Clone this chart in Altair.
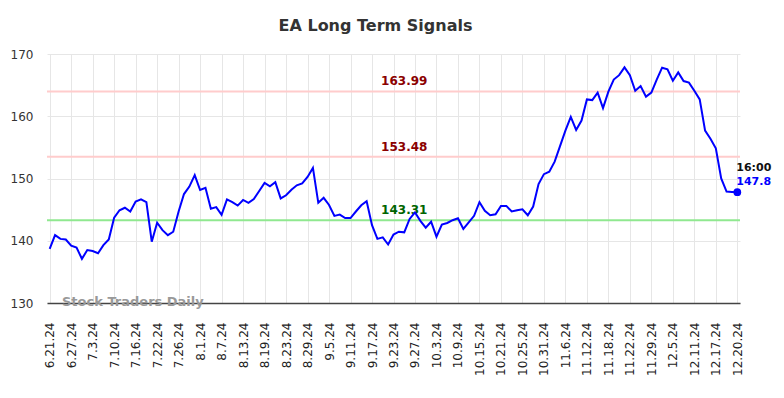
import json
import altair as alt
import pandas as pd

tick_labels = ["6.21.24", "6.27.24", "7.3.24", "7.10.24", "7.16.24", "7.22.24", "7.26.24",
               "8.1.24", "8.7.24", "8.13.24", "8.19.24", "8.23.24", "8.29.24", "9.5.24",
               "9.11.24", "9.17.24", "9.23.24", "9.27.24", "10.3.24", "10.9.24", "10.15.24",
               "10.21.24", "10.25.24", "10.31.24", "11.6.24", "11.12.24", "11.18.24",
               "11.22.24", "11.29.24", "12.5.24", "12.11.24", "12.17.24", "12.20.24"]

prices = [138.7, 140.9, 140.3, 140.2, 139.2, 138.9, 137.1, 138.5, 138.35, 138.0,
          139.3, 140.2, 143.7, 144.9, 145.3, 144.7, 146.3, 146.65, 146.2, 139.85,
          142.9, 141.7, 140.9, 141.45, 144.7, 147.5, 148.7, 150.55, 148.15, 148.5,
          145.15, 145.4, 144.15, 146.65, 146.2, 145.65, 146.55, 146.1, 146.7, 148.0,
          149.3, 148.75, 149.4, 146.8, 147.3, 148.2, 148.9, 149.2, 150.25, 151.7,
          146.1, 146.9, 145.75, 144.0, 144.2, 143.65, 143.65, 144.7, 145.7, 146.35,
          142.5, 140.3, 140.55, 139.4, 141.0, 141.45, 141.35, 143.5, 144.55, 143.2,
          142.1, 143.05, 140.65, 142.6, 142.85, 143.3, 143.6, 141.9, 142.95, 144.0,
          146.2, 144.8, 144.1, 144.25, 145.6, 145.6, 144.7, 144.9, 145.05, 144.1,
          145.5, 149.1, 150.7, 151.1, 152.7, 155.2, 157.7, 159.9, 157.8, 159.3,
          162.7, 162.6, 163.8, 161.3, 163.95, 165.9, 166.6, 167.85, 166.6, 164.1,
          164.85, 163.15, 163.8, 165.9, 167.8, 167.55, 165.7, 167.05, 165.65, 165.4,
          164.1, 162.7, 157.7, 156.4, 154.85, 150.0, 147.9, 147.85, 147.8]

levels = [163.99, 153.48, 143.31]
level_line_colors = ["#ffcccc", "#ffcccc", "#90e890"]
level_text_colors = ["#8b0000", "#8b0000", "#006400"]
level_label_index = 66

last_time = "16:00"

n = len(prices)
tick_positions = list(range(0, n, 4))
df = pd.DataFrame({"i": list(range(n)), "price": prices})
lv = pd.DataFrame({"level": levels, "lc": level_line_colors, "tc": level_text_colors,
                   "label": [f"{v:.2f}" for v in levels], "i": [level_label_index] * 3})
last = pd.DataFrame({"i": [n - 1], "price": [prices[-1]], "t": [last_time],
                     "p": [f"{prices[-1]:.1f}"]})

font = "DejaVu Sans"
xscale = alt.Scale(domain=[-0.5, n - 0.5], nice=False, zero=False)
yscale = alt.Scale(domain=[130, 170], nice=False, zero=False)

label_expr = json.dumps(tick_labels) + "[round(datum.value/4)]"

x_axis = alt.Axis(values=tick_positions, tickCount=len(tick_positions) + 5,
                  labelExpr=label_expr, labelAngle=-90,
                  labelOverlap=False, labelBound=False, labelFlush=False,
                  title=None, grid=True, gridColor="#e6e6e6", gridWidth=1, ticks=False,
                  labelPadding=19, labelFont=font, labelFontSize=12, labelColor="#222",
                  domain=True, domainColor="#444", domainWidth=1.5)
y_axis = alt.Axis(values=[130, 140, 150, 160, 170], tickCount=10, title=None, grid=True,
                  gridColor="#e6e6e6", gridWidth=1, ticks=False, domain=False,
                  labelPadding=14, labelFont=font, labelFontSize=12, labelColor="#333")

base_grid = alt.Chart(df).mark_line(opacity=0).encode(
    x=alt.X("i:Q", scale=xscale, axis=x_axis),
    y=alt.Y("price:Q", scale=yscale, axis=y_axis),
)

rules = alt.Chart(lv).mark_rule(strokeWidth=2).encode(
    y=alt.Y("level:Q", scale=yscale),
    color=alt.Color("lc:N", scale=None),
)

level_text = alt.Chart(lv).mark_text(font=font, fontSize=12, fontWeight="bold",
                                     baseline="bottom", dy=-3).encode(
    x=alt.X("i:Q", scale=xscale),
    y=alt.Y("level:Q", scale=yscale),
    text="label:N",
    color=alt.Color("tc:N", scale=None),
)

line = alt.Chart(df).mark_line(color="#0000ff", strokeWidth=2).encode(
    x=alt.X("i:Q", scale=xscale),
    y=alt.Y("price:Q", scale=yscale),
)

dot = alt.Chart(last).mark_point(filled=True, size=60, color="#0000ff", opacity=1).encode(
    x=alt.X("i:Q", scale=xscale),
    y=alt.Y("price:Q", scale=yscale),
)

t1 = alt.Chart(last).mark_text(font=font, fontSize=11, fontWeight="bold", align="left",
                               baseline="middle", dx=-1, dy=-24, color="#111").encode(
    x=alt.X("i:Q", scale=xscale),
    y=alt.Y("price:Q", scale=yscale),
    text="t:N",
)
t2 = alt.Chart(last).mark_text(font=font, fontSize=11, fontWeight="bold", align="left",
                               baseline="middle", dx=-1, dy=-10, color="#0000ff").encode(
    x=alt.X("i:Q", scale=xscale),
    y=alt.Y("price:Q", scale=yscale),
    text="p:N",
)

watermark = alt.Chart(last).mark_text(font=font, fontSize=13, fontWeight="bold",
                                      align="left", baseline="middle",
                                      color="#999999").encode(
    x=alt.value(15),
    y=alt.value(248),
    text=alt.value("Stock Traders Daily"),
)

chart = alt.layer(base_grid, rules, level_text, line, dot, t1, t2, watermark).properties(
    width=693,
    height=249,
    autosize=alt.AutoSizeParams(type="none"),
    padding={"left": 39, "top": 46, "right": 36, "bottom": 87},
    title=alt.TitleParams("EA Long Term Signals", font=font, fontSize=16, fontWeight="bold",
                          color="#333", anchor="middle", offset=14, dx=-18),
).configure(background="white").configure_view(stroke=None)

chart.save("out.html", embed_options={"renderer": "svg", "actions": False})
